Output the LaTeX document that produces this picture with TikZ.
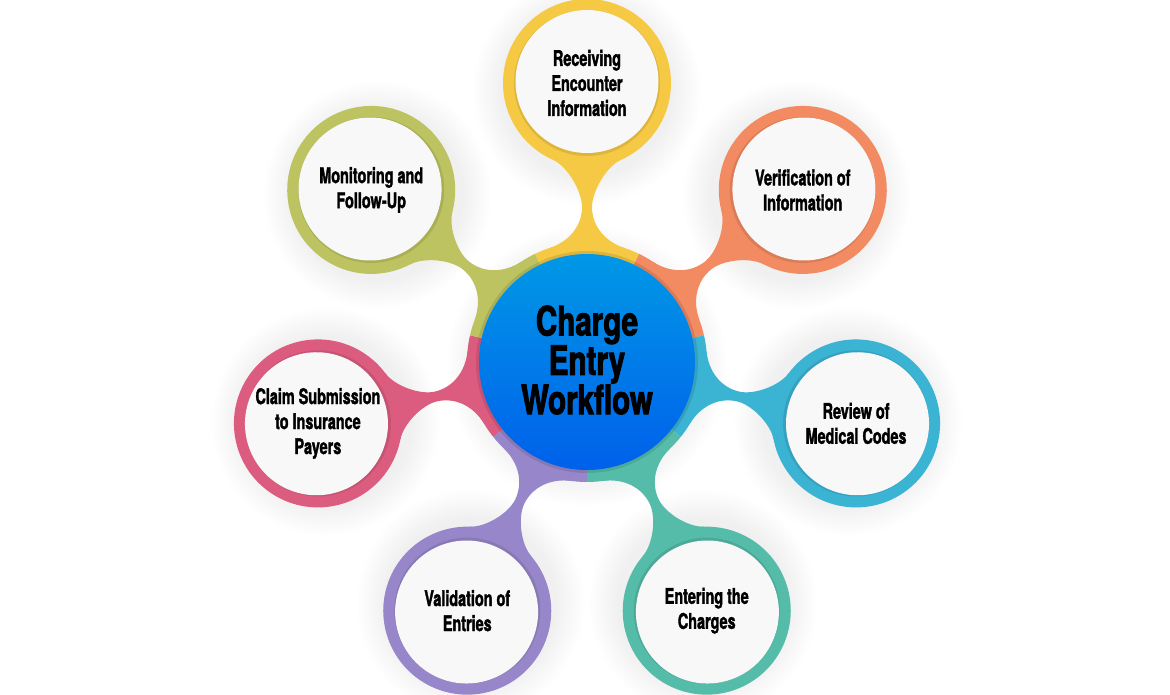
\documentclass[tikz,border=0pt]{standalone}
\usepackage{fontspec}
\setmainfont{TeX Gyre Heros}
\newfontfamily\satfont{TeX Gyre Heros}[FakeStretch=0.67, FakeBold=1.6]
\newfontfamily\cenfont{TeX Gyre Heros}[FakeStretch=0.73, FakeBold=2.2]
\definecolor{cY}{HTML}{F6C944}
\definecolor{cO}{HTML}{F28A62}
\definecolor{cC}{HTML}{3BB3D3}
\definecolor{cT}{HTML}{55BCA9}
\definecolor{cP}{HTML}{9786C9}
\definecolor{cK}{HTML}{DC5C7F}
\definecolor{cG}{HTML}{BDC360}
\definecolor{bTop}{HTML}{0098E6}
\definecolor{bBot}{HTML}{0060EB}
\definecolor{disc}{HTML}{F8F8F8}
\tikzset{
  sattext/.style={align=center, text=black, font=\satfont\bfseries\fontsize{21.5}{25}\selectfont},
  centext/.style={align=center, text=black, font=\cenfont\bfseries\fontsize{40.5}{35.5}\selectfont},
}
\begin{document}
\begin{tikzpicture}[x=1pt,y=1pt]
\useasboundingbox (-587,-332) rectangle (583,362);
\fill[white] (-587,-332) rectangle (583,362);
% shadows
\foreach \a/\d in {90/279,38.571/276,-12.857/276,-64.286/276,-115.714/276,-167.143/276,141.429/276}{
  \begin{scope}[rotate=\a]
    \foreach \r in {86,88,...,114}{
      \fill[black,opacity=0.005] (\d-8,0) circle (\r);
    }
  \end{scope}
}
\foreach \r in {122,124,...,140}{
  \fill[black,opacity=0.004] (0,-4) circle (\r);
}
% stems
\foreach \a/\c/\d in {90/cY/279,38.571/cO/276,-12.857/cC/276,-64.286/cT/276,-115.714/cP/276,-167.143/cK/276,141.429/cG/276}{
  \begin{scope}[rotate=\a]
    \fill[\c] (114.13,37.08) .. controls (120.5,18) and (136,5) .. (155,5)
      .. controls (170,5) and (\d-83.5,19) .. (\d-76.74,34.17)
      -- (\d-76.74,-34.17)
      .. controls (\d-83.5,-19) and (170,-5) .. (155,-5)
      .. controls (136,-5) and (120.5,-18) .. (114.13,-37.08) -- cycle;
    % central ring segment
    \fill[\c] (0,0) -- (-25.72:120) arc[start angle=-25.72, end angle=25.72, radius=120] -- cycle;
  \end{scope}
}
% central disc
\fill[black,opacity=0.10] (0,0) circle (111);
\shade[top color=bTop, bottom color=bBot] (0,0) circle (108);
\node[centext] (center) at (0,2) {Charge\\Entry\\Workflow};
% satellites
\foreach \a/\c/\d in {90/cY/279,38.571/cO/276,-12.857/cC/276,-64.286/cT/276,-115.714/cP/276,-167.143/cK/276,141.429/cG/276}{
  \begin{scope}[rotate=\a]
    \fill[\c] (\d,0) circle (84);
    \fill[\c!90!black] (\d,0) circle (73);
    \fill[disc] (\d+1.5,0) circle (71.5);
  \end{scope}
}
\node[sattext] (s0) at (90:279) {Receiving\\Encounter\\Information};
\node[sattext] (s1) at (38.571:276) {Verification of\\Information};
\node[sattext] (s2) at (-12.857:276) {Review of\\Medical Codes};
\node[sattext] (s3) at (-64.286:276) {Entering the\\Charges};
\node[sattext] (s4) at (-115.714:276) {Validation of\\Entries};
\node[sattext] (s5) at (-167.143:276) {Claim Submission\\to Insurance\\Payers};
\node[sattext] (s6) at (141.429:276) {Monitoring and\\Follow-Up};
\end{tikzpicture}
\end{document}
